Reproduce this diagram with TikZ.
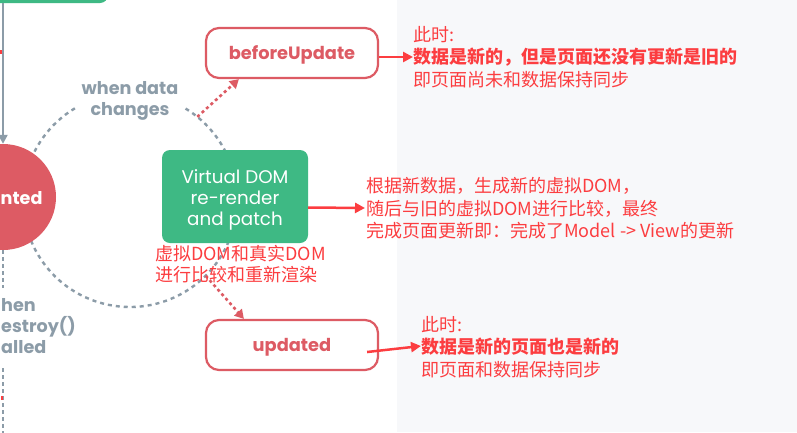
\documentclass[tikz,border=0pt]{standalone}
\usepackage{fontspec}
\newfontfamily\pop{Poppins}
\newfontfamily\cjk{Noto Sans CJK SC}
\usetikzlibrary{arrows.meta}
\definecolor{vgreen}{HTML}{3EB984}
\definecolor{vred}{HTML}{DD5B64}
\definecolor{vgray}{HTML}{8C9CA8}
\definecolor{annot}{HTML}{FC3D40}
\definecolor{panel}{HTML}{F7F8FA}
\begin{document}
\begin{tikzpicture}[x=1pt,y=-1pt,
  gdash/.style={draw=vgray,line width=2.4pt,dash pattern=on 4pt off 4pt},
  garrow/.style={draw=vgray,line width=2.2pt,-{Triangle[length=9pt,width=9pt]}},
  rdash/.style={draw=vred,line width=2.6pt,dash pattern=on 3pt off 3pt,-{Triangle[length=9pt,width=10pt]}},
  hookbox/.style={draw=vred,line width=2.2pt,rounded corners=13pt,minimum width=172pt,minimum height=50pt,fill=white,font=\pop\bfseries\fontsize{17.8}{20}\selectfont,text=vred,inner sep=0pt,text height=12pt,text depth=0pt},
  vbox/.style={fill=vgreen,rounded corners=8pt,minimum width=146pt,minimum height=93pt,inner sep=0pt},
  vtext/.style={text=white,font=\pop\fontsize{18.3}{21}\selectfont,align=center,inner sep=0pt},
  note/.style={text=annot,font=\cjk\fontsize{18}{22}\selectfont,anchor=base west,inner sep=0pt},
  bnote/.style={note,font=\cjk\bfseries\fontsize{18}{22}\selectfont},
  narrow/.style={draw=annot,line width=2.5pt,-{Triangle[length=10pt,width=10pt]}},
  glabel/.style={text=vgray,font=\pop\bfseries\fontsize{17.6}{20.5}\selectfont,align=center,inner sep=0pt},
  gpart/.style={text=vgray,font=\pop\bfseries\fontsize{17.6}{20}\selectfont,anchor=base west,inner sep=0pt}
]
\useasboundingbox (0,0) rectangle (797,432);
\clip (0,0) rectangle (797,432);
\fill[white] (0,0) rectangle (797,432);
\fill[panel] (397,0) rectangle (797,432);

% top green box (partly visible)
\node[fill=vgreen,rounded corners=8pt,minimum width=140pt,minimum height=40pt,inner sep=0pt] (topbox) at (38,-17) {};
\fill[annot] (0,50) rectangle (2,54);

% update loop (dashed circle)
\coordinate (c) at (130,200);
\draw[gdash] ([shift={(-121:107)}]c) arc[start angle=-121,end angle=-419,radius=107];
\node[glabel] (wdc) at (130,101) {when data\\changes};

% mounted
\node[circle,fill=vred,minimum size=106pt,inner sep=0pt] (mounted) at (3,197) {};
\node[text=white,font=\pop\bfseries\fontsize{17.6}{20}\selectfont,anchor=base west,inner sep=0pt] (mtxt) at (0.5,204) {nted};
\draw[garrow] (mounted.north |- topbox.south) -- (mounted.north);

% destroy
\coordinate (d1) at (3,288);
\coordinate (d2) at (3,368);
\coordinate (d3) at (3,440);
\draw[draw=vgray,line width=2pt,dash pattern=on 4pt off 3pt] (mounted.south) -- (d1);
\draw[draw=vgray,line width=2pt,dash pattern=on 4pt off 3pt] (d2) -- (d3);
\fill[annot] (1,396) rectangle (3,400);
\node[gpart] (ds1) at (1,311) {hen};
\node[gpart] (ds2) at (1,332) {estroy()};
\node[gpart] (ds3) at (1,353) {alled};

% hooks
\node[hookbox] (bu) at (292,53) {beforeUpdate};
\node[hookbox] (up) at (292,345) {updated};
\node[vbox] (vd) at (235,196.5) {};
\node[vtext] (vdt) at (235,199.5) {Virtual DOM\\re-render\\and patch};

\draw[rdash] ([shift={(-51:107)}]c) -- ([xshift=34pt]bu.south west);
\draw[rdash] ([shift={(45:107)}]c) -- ([xshift=39pt]up.north west);

% annotations
\coordinate (t1) at (413,57);
\coordinate (t2) at (365,208);
\coordinate (t3) at (421,346);
\draw[narrow] ([yshift=-4pt]bu.east) -- (t1);
\draw[narrow] ([yshift=-11pt]vd.east) -- (t2);
\draw[narrow] ([shift={(-12pt,-7pt)}]up.east) -- (t3);

\node[note] (a11) at (413,41.8) {此时:};
\node[bnote] (a12) at (413,63.8) {数据是新的，但是页面还没有更新是旧的};
\node[note] (a13) at (413,86.8) {即页面尚未和数据保持同步};

\node[note] (a21) at (366,192.3) {根据新数据，生成新的虚拟DOM，};
\node[note] (a22) at (366,215.8) {随后与旧的虚拟DOM进行比较，最终};
\node[note] (a23) at (366,237.8) {完成页面更新即：完成了Model -> View的更新};

\node[note] (a31) at (421,331.8) {此时:};
\node[bnote] (a32) at (421,353.3) {数据是新的页面也是新的};
\node[note] (a33) at (421,376.3) {即页面和数据保持同步};

\node[note] (a41) at (155,260.3) {虚拟DOM和真实DOM};
\node[note] (a42) at (155,281.8) {进行比较和重新渲染};
\end{tikzpicture}
\end{document}
